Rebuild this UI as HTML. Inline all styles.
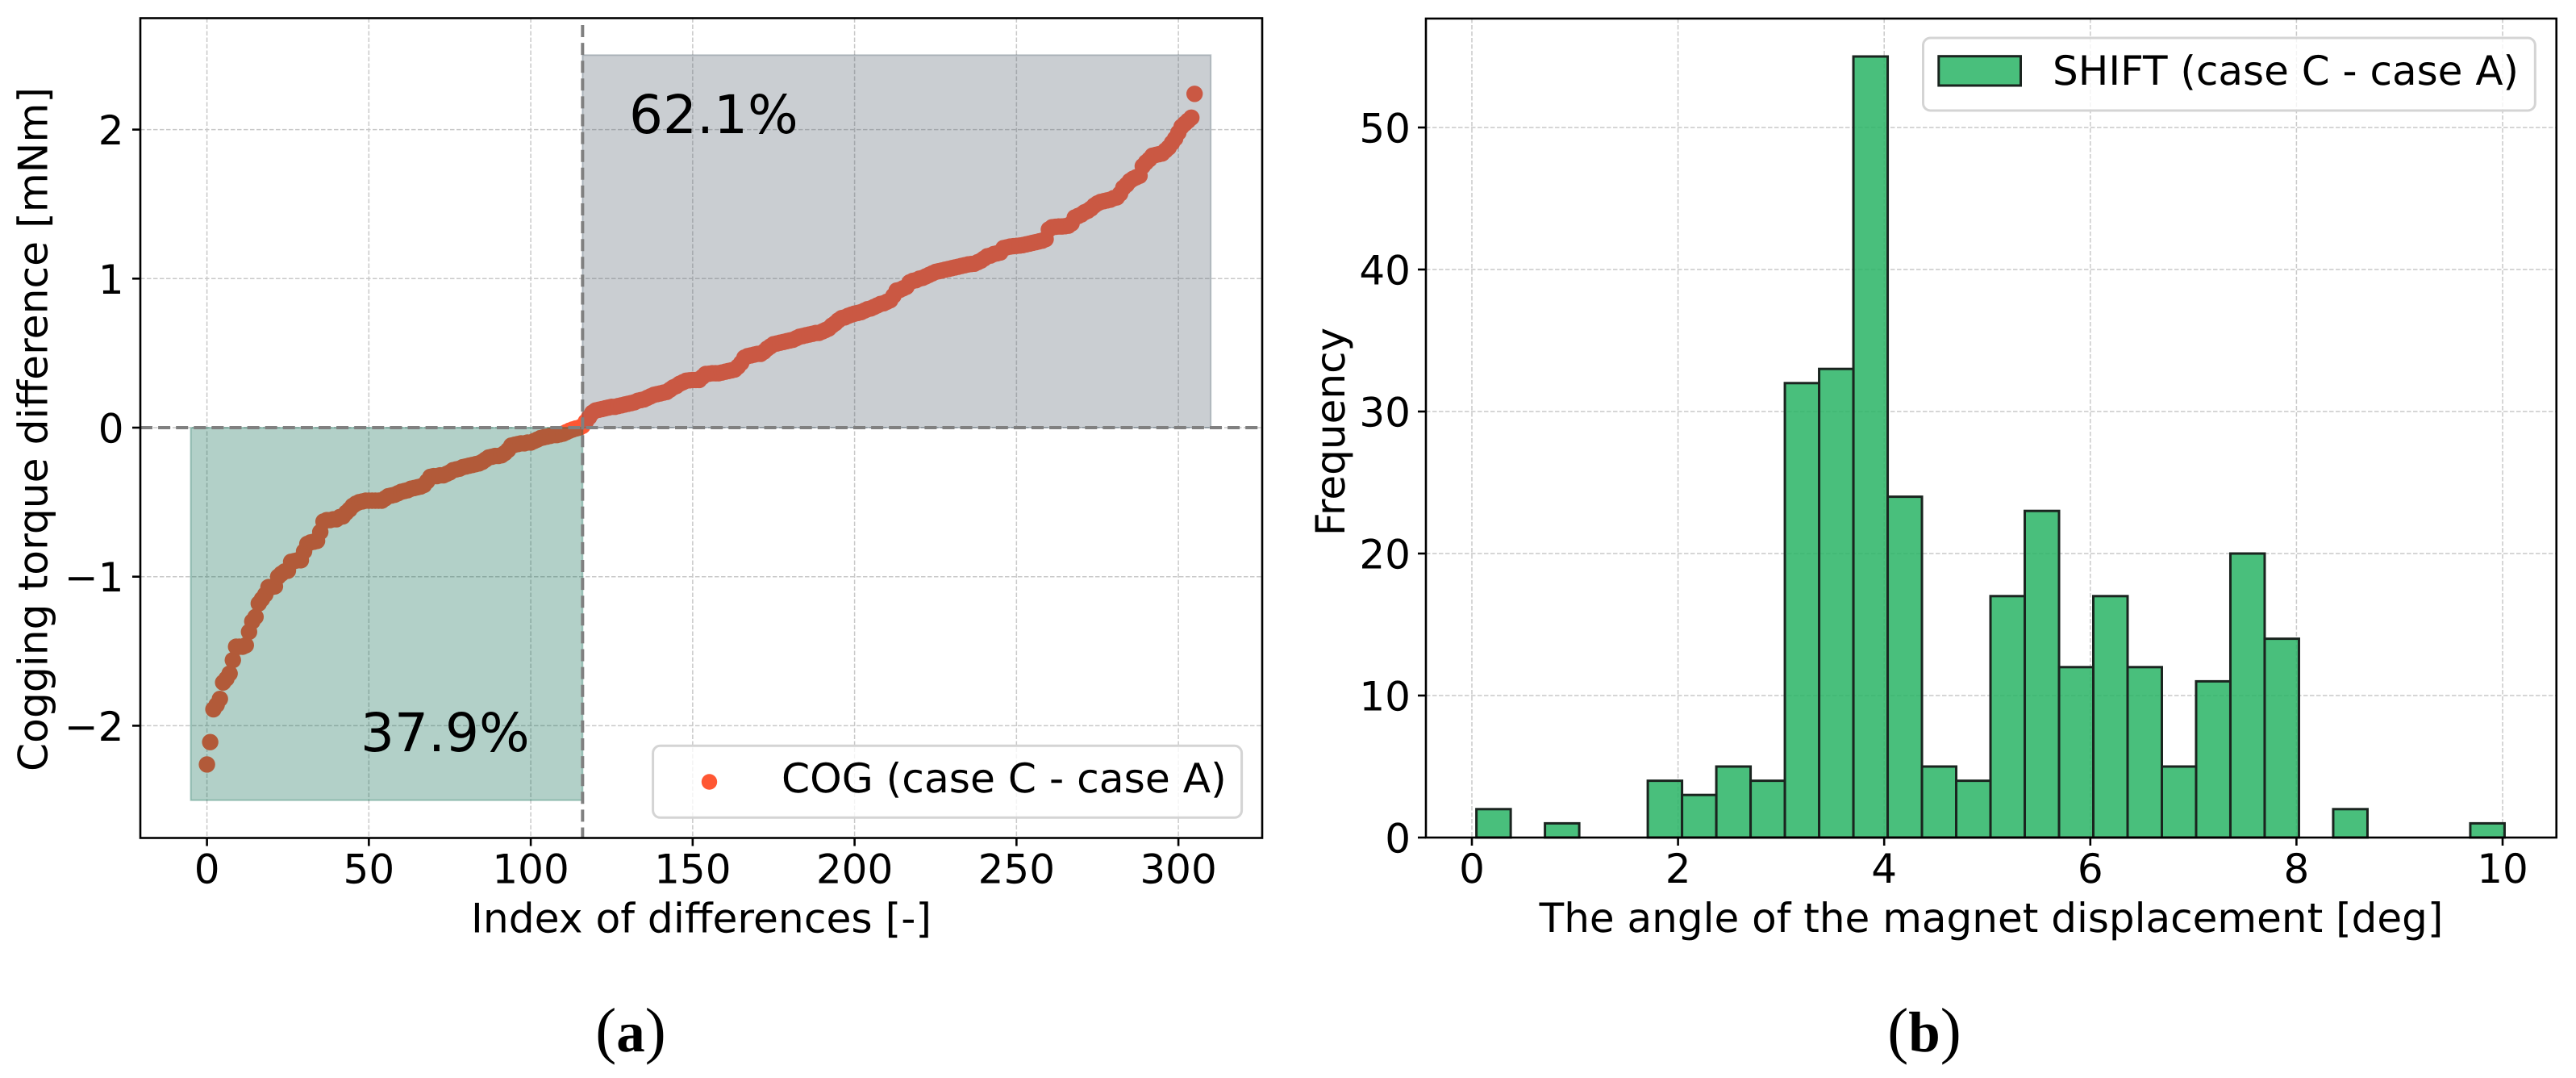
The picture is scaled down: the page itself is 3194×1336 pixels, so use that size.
<!DOCTYPE html>
<html lang="en">
<head>
<meta charset="utf-8">
<title>Cogging torque difference and magnet displacement</title>
<style>
html,body{margin:0;padding:0;background:#fff;}
svg{display:block;text-rendering:geometricPrecision;}
text{font-family:"DejaVu Sans","Liberation Sans",sans-serif;fill:#000;}
.tick{font-size:50px;}
.axis{font-size:50px;}
#panel-a .axis{font-size:50.3px;}
.note{font-size:66px;}
.cap{font-family:"Liberation Serif",serif;font-size:78px;}
.cap tspan{font-size:71px;font-weight:bold;}
</style>
</head>
<body>
<svg id="fig" xmlns="http://www.w3.org/2000/svg" width="3194" height="1336" viewBox="0 0 3194 1336">
  <rect x="0" y="0" width="3194" height="1336" fill="#fff"/>

  <g id="panel-a">
    <g id="a-grid"></g>
    <g id="a-points"></g>
    <g id="a-regions"></g>
    <g id="a-refs"></g>
    <g id="a-ticks"></g>
    <rect x="174" y="22.5" width="1391" height="1016" fill="none" stroke="#000" stroke-width="2.6"/>
    <text class="note" x="780" y="165">62.1%</text>
    <text class="note" x="447" y="931">37.9%</text>
    <text class="axis" transform="translate(58.7 532) rotate(-90)" text-anchor="middle">Cogging torque difference [mNm]</text>
    <text class="axis" x="869.5" y="1155.5" text-anchor="middle">Index of differences [-]</text>
    <g>
      <rect x="809.6" y="924.3" width="730" height="89" rx="9" ry="9" fill="#fff" fill-opacity="0.8" stroke="#d4d4d4" stroke-width="3"/>
      <circle cx="879.5" cy="969" r="9.7" fill="#ff5733"/>
      <text class="axis" x="969" y="982">COG (case C - case A)</text>
    </g>
    <text class="cap" x="782" y="1303" text-anchor="middle">(<tspan>a</tspan>)</text>
  </g>

  <g id="panel-b">
    <g id="b-grid"></g>
    <g id="b-bars"></g>
    <g id="b-ticks"></g>
    <rect x="1768" y="23" width="1401.7" height="1015" fill="none" stroke="#000" stroke-width="2.6"/>
    <text class="axis" transform="translate(1667 535) rotate(-90)" text-anchor="middle">Frequency</text>
    <text class="axis" x="2469" y="1155" text-anchor="middle">The angle of the magnet displacement [deg]</text>
    <g>
      <rect x="2384.5" y="47" width="758.8" height="90" rx="9" ry="9" fill="#fff" fill-opacity="0.8" stroke="#d4d4d4" stroke-width="3"/>
      <rect x="2403.8" y="69.7" width="101.7" height="36.3" fill="rgb(41,180,101)" fill-opacity="0.85" stroke="#1a241f" stroke-width="3"/>
      <text class="axis" x="2545" y="105">SHIFT (case C - case A)</text>
    </g>
    <text class="cap" x="2386" y="1303" text-anchor="middle">(<tspan>b</tspan>)</text>
  </g>
</svg>

<script>
// Panel (a): sorted torque differences
const cogValues = [
-2.26,-2.11,-1.89,-1.86,-1.82,-1.71,-1.685,-1.65,-1.56,-1.47,
-1.47,-1.47,-1.46,-1.37,-1.30,-1.27,-1.18,-1.15,-1.12,-1.07,
-1.07,-1.065,-1.00,-.98,-.965,-.96,-.90,-.895,-.89,-.89,
-.83,-.78,-.77,-.765,-.76,-.70,-.63,-.62,-.62,-.615,
-.615,-.60,-.595,-.57,-.55,-.525,-.51,-.50,-.495,-.49,
-.49,-.49,-.49,-.49,-.49,-.475,-.46,-.455,-.45,-.44,
-.43,-.425,-.42,-.41,-.405,-.40,-.395,-.385,-.36,-.33,
-.325,-.325,-.32,-.32,-.31,-.30,-.285,-.28,-.275,-.265,
-.26,-.255,-.25,-.245,-.24,-.23,-.215,-.20,-.195,-.19,
-.19,-.185,-.17,-.15,-.12,-.115,-.11,-.105,-.105,-.10,
-.10,-.09,-.08,-.07,-.065,-.06,-.055,-.05,-.05,-.045,
-.04,-.03,-.02,-.012,-.005,0,.012,.04,.07,.10,
.115,.12,.125,.13,.135,.14,.14,.145,.15,.155,
.16,.165,.17,.18,.185,.19,.20,.21,.22,.225,
.23,.235,.24,.255,.27,.28,.295,.305,.315,.318,
.32,.32,.32,.34,.36,.362,.365,.365,.365,.37,
.375,.38,.385,.39,.41,.435,.47,.48,.485,.49,
.495,.495,.51,.53,.545,.56,.565,.57,.575,.58,
.585,.59,.60,.61,.615,.62,.625,.63,.635,.636,
.645,.655,.665,.685,.70,.72,.735,.74,.75,.758,
.765,.77,.775,.785,.795,.80,.81,.82,.83,.835,
.845,.855,.885,.92,.925,.935,.945,.975,.985,.99,
1.0,1.005,1.015,1.025,1.035,1.045,1.05,1.055,1.06,1.065,
1.07,1.075,1.08,1.085,1.09,1.095,1.098,1.10,1.11,1.12,
1.135,1.15,1.155,1.165,1.17,1.175,1.205,1.21,1.215,1.218,
1.22,1.222,1.225,1.23,1.235,1.24,1.245,1.25,1.255,1.265,
1.33,1.345,1.348,1.35,1.35,1.352,1.355,1.37,1.41,1.42,
1.43,1.445,1.455,1.47,1.49,1.505,1.515,1.52,1.525,1.53,
1.54,1.545,1.57,1.61,1.63,1.655,1.67,1.68,1.69,1.755,
1.78,1.80,1.825,1.83,1.835,1.84,1.86,1.88,1.91,1.94,
1.98,2.02,2.04,2.06,2.08,2.24
];
const cogXTicks = [0, 50, 100, 150, 200, 250, 300];
const cogYTicks = [-2, -1, 0, 1, 2];
const splitIndex = [116];
const regionXRange = [-5, 310];
const regionYRange = [-2.5, 2.5];

// Panel (b): histogram of magnet displacement angle
const shiftBinStart = [0.044];
const shiftBinWidth = [0.3325];
const shiftCounts = [2,0,1,0,0,4,3,5,4,32,33,55,24,5,4,17,23,12,17,12,5,11,20,14,0,2,0,0,0,1];
const shiftXTicks = [0, 2, 4, 6, 8, 10];
const shiftYTicks = [0, 10, 20, 30, 40, 50];

const NS = 'http://www.w3.org/2000/svg';
function mk(parent, tag, attrs, txt) {
  const e = document.createElementNS(NS, tag);
  for (const k in attrs) e.setAttribute(k, attrs[k]);
  if (txt !== undefined) e.textContent = txt;
  parent.appendChild(e);
  return e;
}
const g = id => document.getElementById(id);

const ax = v => 256.6 + 4.015 * v;
const ay = v => 530 - 184.7 * v;
const bx = v => 1825 + 127.8 * v;
const by = v => 1038 - 17.6 * v;
const minus = v => String(v).replace('-', '\u2212');
const gridStyle = {stroke: '#c9c9c9', 'stroke-width': 1.5, 'stroke-dasharray': '5.5 2.5', fill: 'none'};

function drawAxes(gridId, tickId, xTicks, yTicks, fx, fy, L, R, T, B, yLabelX) {
  xTicks.forEach(t => {
    const gl = mk(g(gridId), 'line', Object.assign({x1: fx(t), x2: fx(t), y1: T, y2: B}, gridStyle));
    
    
    const tk = mk(g(tickId), 'line', {x1: fx(t), x2: fx(t), y1: B, y2: B + 10, stroke: '#000', 'stroke-width': 2.6});
    
    
    const lb = mk(g(tickId), 'text', {x: fx(t), y: B + 56, 'text-anchor': 'middle', class: 'tick'}, minus(t));
    
    
  });
  yTicks.forEach(t => {
    const gl = mk(g(gridId), 'line', Object.assign({x1: L, x2: R, y1: fy(t), y2: fy(t)}, gridStyle));
    
    
    const tk = mk(g(tickId), 'line', {x1: L - 10, x2: L, y1: fy(t), y2: fy(t), stroke: '#000', 'stroke-width': 2.6});
    
    
    const lb = mk(g(tickId), 'text', {x: yLabelX, y: fy(t) + 18.5, 'text-anchor': 'end', class: 'tick'}, minus(t));
    
    
  });
}

drawAxes('a-grid', 'a-ticks', cogXTicks, cogYTicks, ax, ay, 174, 1565, 22.5, 1038.5, 153.5);
drawAxes('b-grid', 'b-ticks', shiftXTicks, shiftYTicks, bx, by, 1768, 3169.7, 23, 1038, 1749);

cogValues.forEach((v, i) => {
  const p = mk(g('a-points'), 'circle', {cx: ax(i), cy: ay(v), r: 10.2, fill: '#ff5733'});
  
  
});

const split = splitIndex[0];
const posRegion = mk(g('a-regions'), 'rect', {
  x: ax(split), y: ay(regionYRange[1]), width: ax(regionXRange[1]) - ax(split), height: ay(0) - ay(regionYRange[1]),
  fill: 'rgb(80,92,106)', 'fill-opacity': 0.3, stroke: 'rgb(60,80,95)', 'stroke-opacity': 0.3, 'stroke-width': 2});


const negRegion = mk(g('a-regions'), 'rect', {
  x: ax(regionXRange[0]), y: ay(0), width: ax(split) - ax(regionXRange[0]), height: ay(regionYRange[0]) - ay(0),
  fill: 'rgb(0,100,74)', 'fill-opacity': 0.3, stroke: 'rgb(0,100,74)', 'stroke-opacity': 0.3, 'stroke-width': 2});



const refStyle = {stroke: '#808080', 'stroke-width': 4, 'stroke-dasharray': '15 7.1', fill: 'none'};
const hRef = mk(g('a-refs'), 'line', Object.assign({x1: 174, x2: 1563, y1: ay(0), y2: ay(0)}, refStyle));


const vRef = mk(g('a-refs'), 'line', Object.assign({x1: ax(split), x2: ax(split), y1: 1038.5, y2: 24, 'stroke-dashoffset': 2}, refStyle));



shiftCounts.forEach((c, i) => {
  const x0 = shiftBinStart[0] + i * shiftBinWidth[0];
  const b = mk(g('b-bars'), 'rect', {
    x: bx(x0), y: by(c), width: bx(x0 + shiftBinWidth[0]) - bx(x0), height: by(0) - by(c),
    fill: 'rgb(41,180,101)', 'fill-opacity': 0.85, stroke: '#1a241f', 'stroke-width': 3});
  
  
});
</script>
</body>
</html>
